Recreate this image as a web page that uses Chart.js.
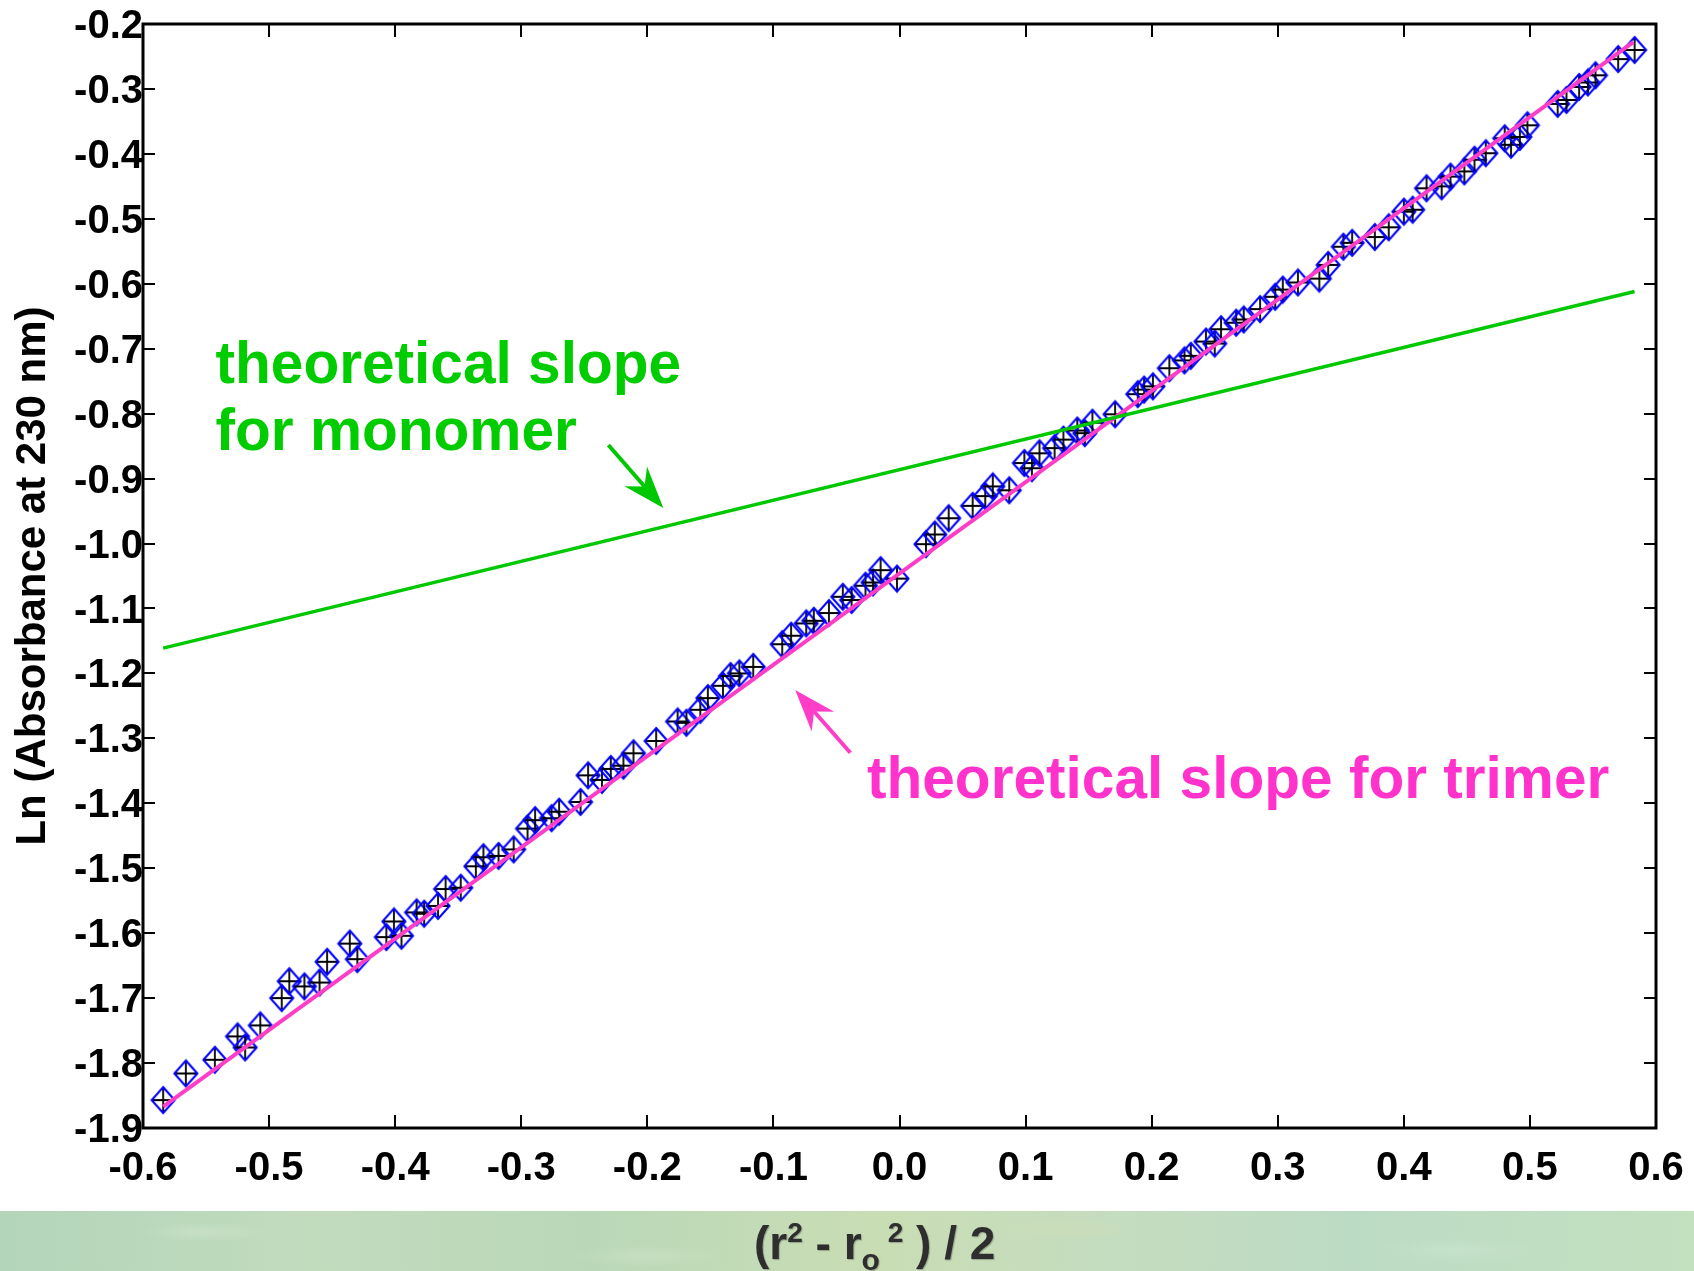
<!DOCTYPE html>
<html>
<head>
<meta charset="utf-8">
<script src="https://cdn.jsdelivr.net/npm/chart.js@4.4.1/dist/chart.umd.min.js"></script>
<style>
html,body{margin:0;padding:0;background:#fff;}
#wrap{position:relative;width:1694px;height:1271px;overflow:hidden;background:#fff;}
#band{position:absolute;left:0;top:1211px;width:1694px;height:60px;
  background:
   radial-gradient(ellipse 90px 14px at 12% 35%, rgba(225,240,220,0.3), rgba(225,240,220,0) 70%),
   radial-gradient(ellipse 110px 16px at 38% 75%, rgba(225,240,220,0.25), rgba(225,240,220,0) 70%),
   radial-gradient(ellipse 100px 15px at 63% 30%, rgba(215,225,180,0.35), rgba(215,225,180,0) 70%),
   radial-gradient(ellipse 120px 18px at 86% 65%, rgba(220,240,225,0.25), rgba(220,240,225,0) 70%),
   linear-gradient(90deg,#b3d5ba 0%,#c1dbbd 18%,#bad8b8 35%,#c9ddb4 52%,#c4dcbf 66%,#bcdbc4 80%,#c3e0bf 100%);}
#c{position:absolute;left:0;top:0;}
</style>
</head>
<body>
<div id="wrap"><div id="band"></div><canvas id="c" width="1694" height="1271"></canvas></div>
<script>
// ---- data ----
const pointX = [
 -0.584,-0.566,-0.543,-0.525,-0.519,-0.507,-0.490,-0.484,-0.472,-0.460,
 -0.454,-0.436,-0.430,-0.407,-0.401,-0.395,-0.383,-0.377,-0.366,-0.360,
 -0.348,-0.336,-0.330,-0.318,-0.306,-0.295,-0.289,-0.276,-0.270,
 -0.253,-0.247,-0.236,-0.229,-0.219,-0.211,-0.193,-0.176,-0.169,-0.158,
 -0.152,-0.140,-0.134,-0.127,-0.116,-0.093,-0.086,-0.074,-0.068,-0.056,
 -0.045,-0.038,-0.027,-0.021,-0.015,-0.002,0.021,0.028,0.039,
 0.058,0.068,0.074,0.087,0.099,0.105,0.111,0.123,0.130,0.141,
 0.147,0.153,0.171,0.189,0.194,0.201,0.214,0.226,0.231,0.243,
 0.250,0.255,0.267,0.273,0.286,0.298,0.304,0.316,0.333,0.340,
 0.352,0.359,
 0.377,0.388,0.400,0.407,0.418,0.430,0.437,0.448,0.456,0.465,
 0.480,0.485,0.492,0.498,0.522,0.529,0.539,0.546,0.552,0.570,0.583
];
const pointY = [
 -1.857,-1.816,-1.795,-1.759,-1.776,-1.742,-1.700,-1.674,-1.682,-1.676,
 -1.644,-1.616,-1.640,-1.606,-1.582,-1.604,-1.568,-1.570,-1.558,-1.532,
 -1.530,-1.497,-1.483,-1.481,-1.471,-1.439,-1.426,-1.423,-1.413,
 -1.398,-1.357,-1.364,-1.347,-1.342,-1.323,-1.304,-1.274,-1.276,-1.256,
 -1.238,-1.219,-1.204,-1.200,-1.190,-1.155,-1.142,-1.123,-1.119,-1.107,
 -1.082,-1.087,-1.065,-1.060,-1.041,-1.054,-1.001,-0.986,-0.961,
 -0.942,-0.927,-0.912,-0.918,-0.876,-0.884,-0.861,-0.853,-0.840,-0.826,
 -0.830,-0.814,-0.801,-0.770,-0.763,-0.758,-0.730,-0.718,-0.711,-0.689,
 -0.692,-0.670,-0.660,-0.655,-0.639,-0.620,-0.609,-0.598,-0.592,-0.571,
 -0.543,-0.537,
 -0.528,-0.513,-0.489,-0.486,-0.453,-0.450,-0.435,-0.427,-0.409,-0.399,
 -0.376,-0.386,-0.374,-0.356,-0.323,-0.317,-0.297,-0.290,-0.279,-0.254,-0.240
];
const trimerX = [-0.584, 0.582];
const trimerY = [-1.867, -0.228];
const monomerX = [-0.584, 0.583];
const monomerY = [-1.161, -0.612];

const xTickValues = [-0.6,-0.5,-0.4,-0.3,-0.2,-0.1,0.0,0.1,0.2,0.3,0.4,0.5,0.6];
const xTickLabels = ['-0.6','-0.5','-0.4','-0.3','-0.2','-0.1','0.0','0.1','0.2','0.3','0.4','0.5','0.6'];
const yTickValues = [-1.9,-1.8,-1.7,-1.6,-1.5,-1.4,-1.3,-1.2,-1.1,-1.0,-0.9,-0.8,-0.7,-0.6,-0.5,-0.4,-0.3,-0.2];
const yTickLabels = ['-1.9','-1.8','-1.7','-1.6','-1.5','-1.4','-1.3','-1.2','-1.1','-1.0','-0.9','-0.8','-0.7','-0.6','-0.5','-0.4','-0.3','-0.2'];

const yTitle = 'Ln (Absorbance at 230 nm)';
// x title pieces: [text, kind] kind: n = normal, sup = superscript, sub = subscript
const xTitleParts = [['(r','n'],['2','sup'],[' - r','n'],['o','sub'],[' 2','sup'],[' ) / 2','n']];

const monomerLabel = ['theoretical slope','for monomer'];
const trimerLabel = 'theoretical slope for trimer';

// annotation anchors (data coordinates)
const monomerTextAt = [-0.5425, -0.7528, -0.856];
const trimerTextAt = [-0.0258, -1.392];
const monomerArrow = [-0.2309, -0.8483, -0.1873, -0.9453];
const trimerArrow = [-0.039, -1.3221, -0.0827, -1.2256];

// ---- styles ----
const FONT = '"Liberation Sans", Arial, Helvetica, sans-serif';
const GREEN = '#00c800';
const GREEN_TXT = '#00cc00';
const PINK = '#ff3ec8';
const PINK_TXT = '#ff33cc';

function makeMarker(){
  const c = document.createElement('canvas');
  c.width = 28; c.height = 30;
  const g = c.getContext('2d');
  const cx = 14, cy = 15, hw = 11.5, hh = 13;
  g.strokeStyle = '#000'; g.lineWidth = 1.8;
  g.beginPath(); g.moveTo(cx, cy-hh); g.lineTo(cx, cy+hh); g.moveTo(cx-hw, cy); g.lineTo(cx+hw, cy); g.stroke();
  g.strokeStyle = '#0000ff'; g.lineWidth = 2.1;
  g.beginPath(); g.moveTo(cx, cy-hh); g.lineTo(cx+hw, cy); g.lineTo(cx, cy+hh); g.lineTo(cx-hw, cy); g.closePath(); g.stroke();
  return c;
}
const marker = makeMarker();

function arrow(ctx, x0, y0, x1, y1, color, lw, headLen, headHalf){
  const dx = x1-x0, dy = y1-y0, L = Math.hypot(dx,dy), ux = dx/L, uy = dy/L, px = -uy, py = ux;
  const bx = x1-ux*headLen, by = y1-uy*headLen;
  const nx = x1-ux*headLen*0.68, ny = y1-uy*headLen*0.68;
  ctx.strokeStyle = color; ctx.lineWidth = lw; ctx.lineCap = 'butt';
  ctx.beginPath(); ctx.moveTo(x0,y0); ctx.lineTo(nx,ny); ctx.stroke();
  ctx.fillStyle = color;
  ctx.beginPath(); ctx.moveTo(x1,y1);
  ctx.lineTo(bx+px*headHalf, by+py*headHalf);
  ctx.lineTo(nx,ny);
  ctx.lineTo(bx-px*headHalf, by-py*headHalf);
  ctx.closePath(); ctx.fill();
}

const decor = {
  id: 'decor',
  afterDraw(chart){
    const ctx = chart.ctx, a = chart.chartArea, xs = chart.scales.x, ys = chart.scales.y;
    ctx.save();
    // inward ticks on all sides
    ctx.strokeStyle = '#000'; ctx.lineWidth = 2;
    ctx.beginPath();
    xTickValues.slice(1,-1).forEach(v => {
      const p = Math.round(xs.getPixelForValue(v));
      ctx.moveTo(p, a.bottom); ctx.lineTo(p, a.bottom-13);
      ctx.moveTo(p, a.top); ctx.lineTo(p, a.top+13);
    });
    yTickValues.slice(1,-1).forEach(v => {
      const p = Math.round(ys.getPixelForValue(v));
      ctx.moveTo(a.left, p); ctx.lineTo(a.left+12, p);
      ctx.moveTo(a.right, p); ctx.lineTo(a.right-12, p);
    });
    ctx.stroke();
    // frame
    ctx.lineWidth = 3;
    ctx.strokeRect(a.left, a.top, a.right-a.left, a.bottom-a.top);

    // annotations
    ctx.textBaseline = 'alphabetic'; ctx.textAlign = 'left';
    ctx.font = 'bold 58.6px ' + FONT;
    ctx.fillStyle = GREEN_TXT;
    ctx.fillText(monomerLabel[0], xs.getPixelForValue(monomerTextAt[0]), ys.getPixelForValue(monomerTextAt[1]));
    ctx.fillText(monomerLabel[1], xs.getPixelForValue(monomerTextAt[0]), ys.getPixelForValue(monomerTextAt[2]));
    ctx.fillStyle = PINK_TXT;
    ctx.fillText(trimerLabel, xs.getPixelForValue(trimerTextAt[0]), ys.getPixelForValue(trimerTextAt[1]));
    arrow(ctx, xs.getPixelForValue(monomerArrow[0]), ys.getPixelForValue(monomerArrow[1]),
               xs.getPixelForValue(monomerArrow[2]), ys.getPixelForValue(monomerArrow[3]), GREEN, 4, 42, 15);
    arrow(ctx, xs.getPixelForValue(trimerArrow[0]), ys.getPixelForValue(trimerArrow[1]),
               xs.getPixelForValue(trimerArrow[2]), ys.getPixelForValue(trimerArrow[3]), PINK, 4, 42, 15);

    // x axis title with super/subscripts
    const base = 1259;
    let x = 754;
    ctx.fillStyle = '#2e2e2e';
    ctx.shadowColor = 'rgba(0,0,0,0.25)'; ctx.shadowOffsetX = 1; ctx.shadowOffsetY = 1; ctx.shadowBlur = 1;
    xTitleParts.forEach(([t, k]) => {
      let size = 46, dy = 0;
      if (k === 'sup') { size = 28; dy = -17; }
      if (k === 'sub') { size = 30; dy = 11; }
      ctx.font = 'bold ' + size + 'px ' + FONT;
      ctx.fillText(t, x, base + dy);
      x += ctx.measureText(t).width;
    });
    ctx.restore();
  }
};

const ctx = document.getElementById('c').getContext('2d');
new Chart(ctx, {
  type: 'scatter',
  data: {
    datasets: [
      { label: 'monomer', data: monomerX.map((v,i)=>({x:v, y:monomerY[i]})), showLine: true,
        borderColor: GREEN, borderWidth: 3.5, pointRadius: 0, order: 0, fill: false },
      { label: 'trimer', data: trimerX.map((v,i)=>({x:v, y:trimerY[i]})), showLine: true,
        borderColor: PINK, borderWidth: 4, pointRadius: 0, order: 0, fill: false },
      { label: 'data', data: pointX.map((v,i)=>({x:v, y:pointY[i]})), showLine: false,
        pointStyle: marker, pointRadius: 12, order: 1 }
    ]
  },
  options: {
    responsive: false,
    animation: false,
    events: [],
    layout: { padding: { top: 24, right: 38, left: 0, bottom: 0 }, autoPadding: false },
    plugins: { legend: { display: false }, tooltip: { enabled: false } },
    scales: {
      x: {
        type: 'linear', min: -0.6, max: 0.6,
        afterBuildTicks: s => { s.ticks = xTickValues.map(v => ({ value: v })); },
        afterFit: s => { s.height = 143; s.paddingLeft = 0; s.paddingRight = 0; },
        ticks: { callback: (v, i) => xTickLabels[i], color: '#000', padding: 17, maxRotation: 0, minRotation: 0, autoSkip: false,
                 font: { family: FONT, size: 40, weight: 'bold' } },
        grid: { display: false, drawTicks: false },
        border: { display: false },
        title: { display: false }
      },
      y: {
        type: 'linear', min: -1.9, max: -0.2,
        afterBuildTicks: s => { s.ticks = yTickValues.map(v => ({ value: v })); },
        afterFit: s => { s.width = 143; s.paddingTop = 0; s.paddingBottom = 0; },
        ticks: { callback: (v, i) => yTickLabels[i], color: '#000', padding: 0, labelOffset: 3, autoSkip: false,
                 font: { family: FONT, size: 40, weight: 'bold' } },
        grid: { display: false, drawTicks: false },
        border: { display: false },
        title: { display: true, text: yTitle, color: '#000', padding: { top: 8, bottom: 0 },
                 font: { family: FONT, size: 42, weight: 'bold' } }
      }
    }
  },
  plugins: [decor]
});
</script>
</body>
</html>
